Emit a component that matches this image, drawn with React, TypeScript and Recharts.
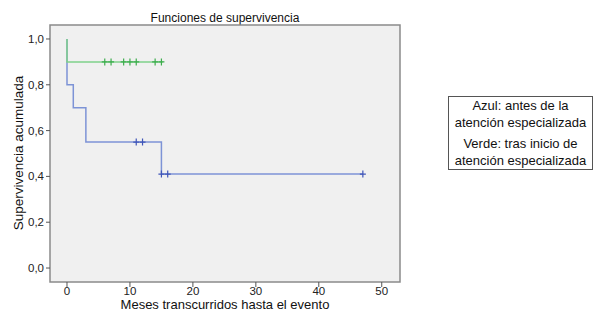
import { ComposedChart, Line, Scatter, XAxis, YAxis, ReferenceArea } from "recharts";

// Kaplan-Meier steps
const blueSteps = [
  { t: 0, s: 1.0 },
  { t: 0, s: 0.8 },
  { t: 1, s: 0.7 },
  { t: 3, s: 0.55 },
  { t: 15, s: 0.41 },
  { t: 47, s: 0.41 },
];
const greenSteps = [
  { t: 0, s: 1.0 },
  { t: 0, s: 0.9 },
  { t: 15.2, s: 0.9 },
];

// censored observations
const blueCensored = [
  { t: 11, s: 0.55 },
  { t: 12, s: 0.55 },
  { t: 15, s: 0.41 },
  { t: 16, s: 0.41 },
  { t: 47, s: 0.41 },
];
const greenCensored = [6, 7, 9, 10, 11, 14, 15].map((t) => ({ t, s: 0.9 }));

const xTicks = [0, 10, 20, 30, 40, 50];
const yTicks = [0, 0.2, 0.4, 0.6, 0.8, 1.0];

const FONT = "'Liberation Sans', Arial, Helvetica, sans-serif";

const cross = (color: string) => (p: any) => {
  const { cx, cy } = p;
  return (
    <path
      d={`M${cx - 3},${cy}h6M${cx},${cy - 3.5}v7`}
      stroke={color}
      strokeWidth={1.2}
      fill="none"
    />
  );
};

export default function App() {
  return (
    <div style={{ position: "absolute", left: 0, top: 0, width: 596, height: 312, background: "#fff", fontFamily: FONT }}>
      <ComposedChart
        width={596}
        height={312}
        margin={{ top: 25, right: 196, left: 0, bottom: 0 }}
      >
        <XAxis
          type="number"
          dataKey="t"
          domain={[-2.7, 52.9]}
          ticks={xTicks}
          allowDataOverflow
          height={30}
          tickSize={5}
          tickMargin={0}
          tickLine={{ stroke: "#555" }}
          axisLine={false}
          tick={{ fill: "#222", fontSize: 11.5, fontFamily: FONT }}
        />
        <YAxis
          type="number"
          dataKey="s"
          domain={[-0.061, 1.061]}
          ticks={yTicks}
          allowDataOverflow
          width={50}
          tickSize={4}
          tickLine={{ stroke: "#555" }}
          axisLine={false}
          tickFormatter={(v: number) => v.toFixed(1).replace(".", ",")}
          tick={{ fill: "#222", fontSize: 11.5, fontFamily: FONT }}
        />
        <ReferenceArea
          x1={-2.7}
          x2={52.9}
          y1={-0.061}
          y2={1.061}
          fill="#f0f0f0"
          fillOpacity={1}
          stroke="#8a8a8a"
          strokeWidth={1.5}
          ifOverflow="visible"
        />
        <Line
          data={blueSteps}
          dataKey="s"
          type="stepAfter"
          stroke="#7d93d6"
          strokeWidth={1.5}
          dot={false}
          activeDot={false}
          isAnimationActive={false}
        />
        <Line
          data={greenSteps}
          dataKey="s"
          type="stepAfter"
          stroke="#7fd18a"
          strokeWidth={1.5}
          dot={false}
          activeDot={false}
          isAnimationActive={false}
        />
        <Scatter data={blueCensored} dataKey="s" shape={cross("#3f55b8")} isAnimationActive={false} />
        <Scatter data={greenCensored} dataKey="s" shape={cross("#3dad4d")} isAnimationActive={false} />
        <text x={225} y={22} textAnchor="middle" fontSize={12} fill="#111" fontFamily={FONT}>
          Funciones de supervivencia
        </text>
        <text x={225} y={309} textAnchor="middle" fontSize={13} fill="#111" fontFamily={FONT}>
          Meses transcurridos hasta el evento
        </text>
        <text
          x={0}
          y={0}
          transform="translate(23,153) rotate(-90)"
          textAnchor="middle"
          fontSize={13.5}
          fill="#111"
          fontFamily={FONT}
        >
          Supervivencia acumulada
        </text>
      </ComposedChart>
      <div
        style={{
          position: "absolute",
          left: 448,
          top: 96,
          width: 145,
          height: 74,
          border: "1px solid #555",
          boxSizing: "border-box",
          fontSize: 13,
          lineHeight: "17px",
          textAlign: "center",
          color: "#111",
          paddingTop: 0,
          whiteSpace: "nowrap",
        }}
      >
        <div>Azul: antes de la</div>
        <div>atención especializada</div>
        <div style={{ marginTop: 4 }}>Verde: tras inicio de</div>
        <div>atención especializada</div>
      </div>
    </div>
  );
}
